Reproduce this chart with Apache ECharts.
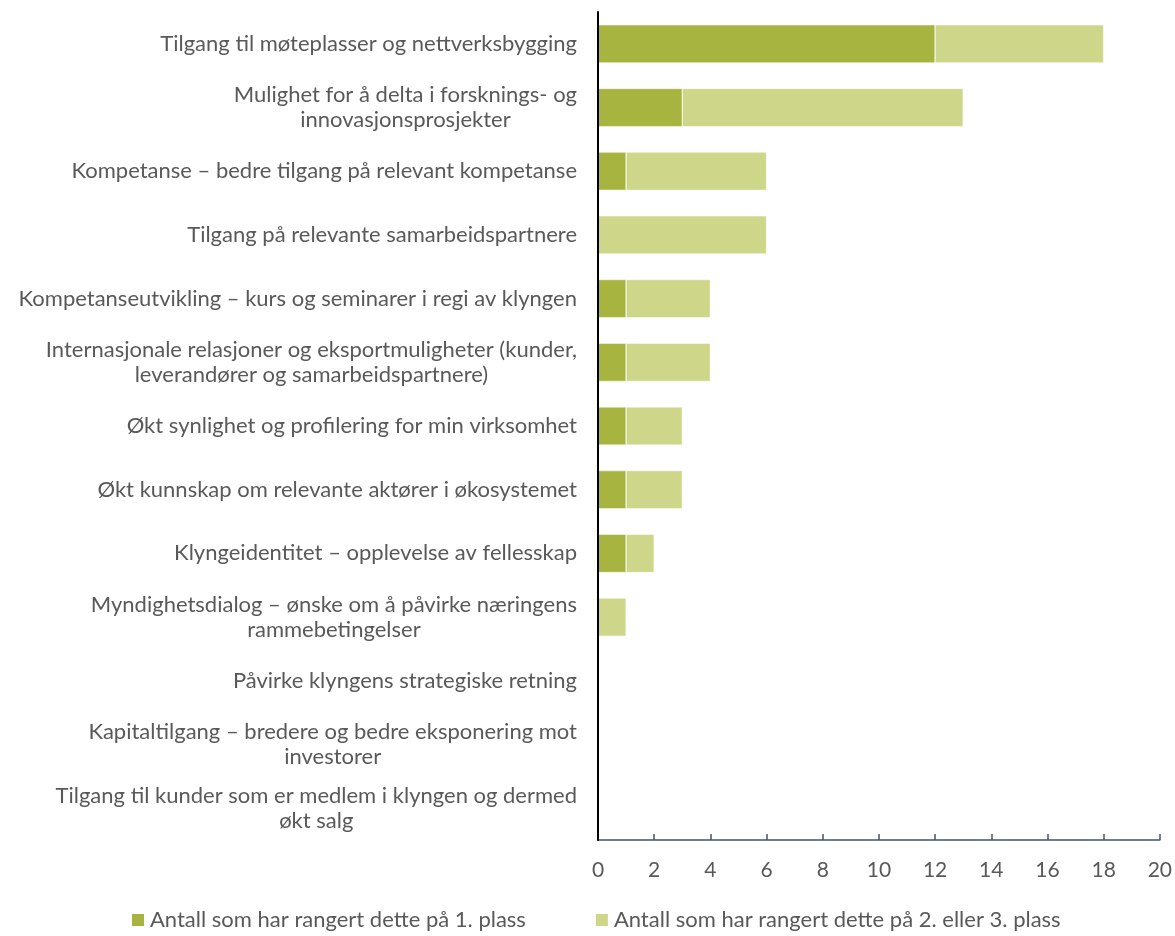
<!DOCTYPE html>
<html>
<head>
<meta charset="utf-8">
<script src="https://cdn.jsdelivr.net/npm/echarts@6/dist/echarts.min.js"></script>
<style>
  html, body { margin: 0; padding: 0; background: #ffffff; }
  #chart { width: 1175px; height: 936px; }
</style>
</head>
<body>
<div id="chart"></div>
<script>
// Categories, top to bottom
const categories = [
  'Tilgang til møteplasser og nettverksbygging',
  'Mulighet for å delta i forsknings- og\ninnovasjonsprosjekter',
  'Kompetanse – bedre tilgang på relevant kompetanse',
  'Tilgang på relevante samarbeidspartnere',
  'Kompetanseutvikling – kurs og seminarer i regi av klyngen',
  'Internasjonale relasjoner og eksportmuligheter (kunder,\nleverandører og samarbeidspartnere)',
  'Økt synlighet og profilering for min virksomhet',
  'Økt kunnskap om relevante aktører i økosystemet',
  'Klyngeidentitet – opplevelse av fellesskap',
  'Myndighetsdialog – ønske om å påvirke næringens\nrammebetingelser',
  'Påvirke klyngens strategiske retning',
  'Kapitaltilgang – bredere og bedre eksponering mot\ninvestorer',
  'Tilgang til kunder som er medlem i klyngen og dermed\nøkt salg'
];

const seriesNames = [
  'Antall som har rangert dette på 1. plass',
  'Antall som har rangert dette på 2. eller 3. plass'
];

const firstPlace = [12, 3, 1, 0, 1, 1, 1, 1, 1, 0, 0, 0, 0];
const secondOrThird = [6, 10, 5, 6, 3, 3, 2, 2, 1, 1, 0, 0, 0];

const xTicks = { min: 0, max: 20, interval: 2 };

const FONT = 'Lato, "Noto Sans", sans-serif';
const TEXT = '#595959';

const chart = echarts.init(document.getElementById('chart'), null, { renderer: 'canvas' });

chart.setOption({
  animation: false,
  backgroundColor: '#ffffff',
  textStyle: { fontFamily: FONT },
  grid: { left: 598, right: 15, top: 12, bottom: 96, containLabel: false },
  legend: {
    bottom: 0,
    left: 125,
    itemWidth: 14,
    itemHeight: 14,
    itemGap: 68,
    icon: 'rect',
    textStyle: { color: TEXT, fontSize: 22, fontFamily: FONT },
    data: seriesNames
  },
  xAxis: {
    type: 'value',
    min: xTicks.min,
    max: xTicks.max,
    interval: xTicks.interval,
    axisLine: { show: true, lineStyle: { color: '#44546a', width: 1.5 } },
    axisTick: { show: true, inside: true, length: 6, lineStyle: { color: '#44546a', width: 1.5 } },
    splitLine: { show: false },
    axisLabel: { color: TEXT, fontSize: 21, fontFamily: FONT, margin: 20 }
  },
  yAxis: {
    type: 'category',
    inverse: true,
    z: 5,
    data: categories,
    axisLine: { show: true, lineStyle: { color: '#000000', width: 2 } },
    axisTick: { show: false },
    axisLabel: {
      margin: 21,
      formatter: v => v.split('\n').map(l => '{c|' + l + '}').join('\n'),
      rich: {
        c: { align: 'center', color: TEXT, fontSize: 22, fontFamily: FONT, lineHeight: 25 }
      }
    }
  },
  series: [
    {
      name: seriesNames[0],
      type: 'bar',
      stack: 'total',
      barWidth: '60%',
      itemStyle: { color: '#a8b440', borderColor: '#ffffff', borderWidth: 0.5 },
      data: firstPlace
    },
    {
      name: seriesNames[1],
      type: 'bar',
      stack: 'total',
      barWidth: '60%',
      itemStyle: { color: '#ced68a', borderColor: '#ffffff', borderWidth: 0.5 },
      data: secondOrThird
    }
  ]
});
</script>
</body>
</html>
